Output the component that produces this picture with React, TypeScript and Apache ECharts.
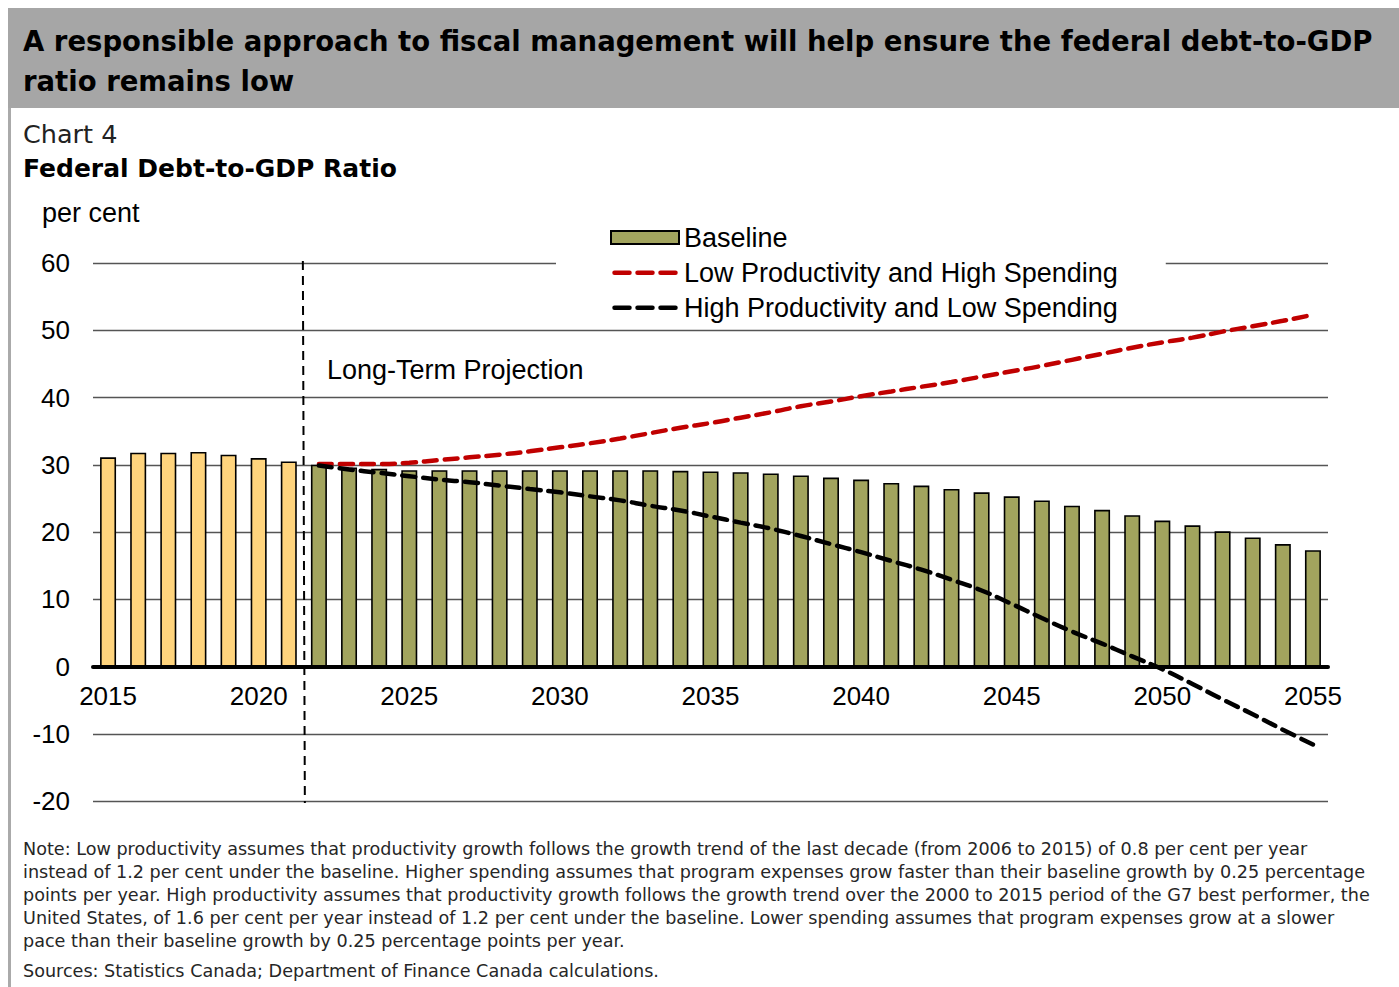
import React, { useEffect, useRef } from "react";
import * as echarts from "echarts";

const years: string[] = [];
for (let y = 2015; y <= 2055; y++) years.push(String(y));

const historicalCount = 7; // 2015-2021

const baseline = [
  31.1, 31.8, 31.8, 31.9, 31.5, 31.0, 30.5,
  30.0, 29.6, 29.4, 29.2, 29.2, 29.2, 29.2, 29.2, 29.2, 29.2,
  29.2, 29.2, 29.1, 29.0, 28.9, 28.7, 28.4, 28.1, 27.8, 27.3,
  26.9, 26.4, 25.9, 25.3, 24.7, 23.9, 23.3, 22.5, 21.7, 21.0,
  20.1, 19.2, 18.2, 17.3,
];

const lowProdHighSpend = [
  null, null, null, null, null, null, null,
  30.1, 30.1, 30.1, 30.3, 30.7, 31.1, 31.5, 32.0, 32.6, 33.2,
  33.9, 34.7, 35.5, 36.2, 37.0, 37.8, 38.7, 39.4, 40.2, 40.9,
  41.6, 42.3, 43.1, 43.9, 44.7, 45.6, 46.5, 47.4, 48.2, 48.9,
  49.8, 50.6, 51.4, 52.3,
];

const highProdLowSpend = [
  null, null, null, null, null, null, null,
  29.9, 29.3, 28.8, 28.3, 27.8, 27.4, 26.9, 26.4, 25.9, 25.3,
  24.7, 23.9, 23.2, 22.3, 21.4, 20.5, 19.4, 18.2, 17.0, 15.7,
  14.4, 12.9, 11.3, 9.3, 7.2, 5.2, 3.4, 1.5, -0.4, -2.6,
  -4.9, -7.1, -9.4, -11.6,
];

const yTicks = { min: -20, max: 60, interval: 10 };

const titleLines = [
  "A responsible approach to fiscal management will help ensure the federal debt-to-GDP",
  "ratio remains low",
];

const noteLines = [
  "Note: Low productivity assumes that productivity growth follows the growth trend of the last decade (from 2006 to 2015) of 0.8 per cent per year",
  "instead of 1.2 per cent under the baseline. Higher spending assumes that program expenses grow faster than their baseline growth by 0.25 percentage",
  "points per year. High productivity assumes that productivity growth follows the growth trend over the 2000 to 2015 period of the G7 best performer, the",
  "United States, of 1.6 per cent per year instead of 1.2 per cent under the baseline. Lower spending assumes that program expenses grow at a slower",
  "pace than their baseline growth by 0.25 percentage points per year.",
];
const sourceLine = "Sources: Statistics Canada; Department of Finance Canada calculations.";

const YELLOW = "#FFD47D";
const OLIVE = "#A2A45E";
const RED = "#C00000";
const AX_FONT = "'Liberation Sans', Arial, sans-serif";
const WIDE_FONT = "'DejaVu Sans', sans-serif";

// three-dash legend glyph with an invisible 13px-high bounding box
const DASH_ICON =
  "path://M0,0L0.01,0L0.01,0.01Z M0,13L0.01,13L0.01,12.99Z M2,4.5h15a2,2 0 0 1 0,4.5h-15a2,2 0 0 1 0,-4.5Z M25,4.5h15a2,2 0 0 1 0,4.5h-15a2,2 0 0 1 0,-4.5Z M48,4.5h15a2,2 0 0 1 0,4.5h-15a2,2 0 0 1 0,-4.5Z";

export default function App() {
  const ref = useRef<HTMLDivElement>(null);

  useEffect(() => {
    if (!ref.current) return;
    const chart = echarts.init(ref.current, null, { renderer: "svg" });

    const graphics: any[] = [
      { id: "banner", type: "rect", shape: { x: 8, y: 8, width: 1391, height: 100 }, style: { fill: "#a6a6a6" }, z: 0 },
      { id: "leftBorder", type: "rect", shape: { x: 8, y: 108, width: 3, height: 879 }, style: { fill: "#aaaaaa" }, z: 0 },
      ...titleLines.map((t, i) => ({
        id: "title" + i,
        type: "text",
        x: 23,
        y: 41 + i * 40,
        style: { text: t, font: `bold 27.5px ${WIDE_FONT}`, fill: "#000", textVerticalAlign: "middle" },
        z: 5,
      })),
      { id: "chartNum", type: "text", x: 23, y: 134, style: { text: "Chart 4", font: `25.5px ${WIDE_FONT}`, fill: "#222", textVerticalAlign: "middle" } },
      { id: "chartTitle", type: "text", x: 23, y: 168, style: { text: "Federal Debt-to-GDP Ratio", font: `bold 25px ${WIDE_FONT}`, fill: "#000", textVerticalAlign: "middle" } },
      { id: "unit", type: "text", x: 42, y: 213, style: { text: "per cent", font: `27px ${AX_FONT}`, fill: "#000", textVerticalAlign: "middle" } },
      { id: "ltp", type: "text", x: 327, y: 370, style: { text: "Long-Term Projection", font: `27px ${AX_FONT}`, fill: "#000", textVerticalAlign: "middle" }, z: 10 },
      ...noteLines.map((t, i) => ({
        id: "note" + i,
        type: "text",
        x: 23,
        y: 849 + i * 23,
        style: { text: t, font: `17.6px ${WIDE_FONT}`, fill: "#262626", textVerticalAlign: "middle" },
      })),
      { id: "source", type: "text", x: 23, y: 971, style: { text: sourceLine, font: `17.6px ${WIDE_FONT}`, fill: "#262626", textVerticalAlign: "middle" } },
    ];

    const option: any = {
      animation: false,
      backgroundColor: "#fff",
      textStyle: { fontFamily: AX_FONT },
      grid: { left: 93, right: 71, top: 263, bottom: 186, containLabel: false },
      legend: {
        orient: "vertical",
        left: 556,
        top: 218,
        padding: [6, 48, 6, 54],
        backgroundColor: "#fff",
        itemWidth: 68,
        itemHeight: 13,
        itemGap: 8,
        textStyle: { fontSize: 27, color: "#000", fontFamily: AX_FONT },
        data: [
          { name: "Baseline", icon: "rect" },
          { name: "Low Productivity and High Spending", icon: DASH_ICON, itemStyle: { color: RED, borderWidth: 0 } },
          { name: "High Productivity and Low Spending", icon: DASH_ICON, itemStyle: { color: "#000", borderWidth: 0 } },
        ],
        z: 20,
      },
      xAxis: {
        type: "category",
        data: years,
        offset: -134.5,
        axisTick: { show: false },
        axisLine: { onZero: false, lineStyle: { color: "#000", width: 4 } },
        axisLabel: { interval: 4, fontSize: 26, color: "#000", margin: 16, fontFamily: AX_FONT },
        splitLine: { show: false },
        z: 6,
      },
      yAxis: {
        type: "value",
        min: yTicks.min,
        max: yTicks.max,
        interval: yTicks.interval,
        axisLine: { show: false },
        axisTick: { show: false },
        axisLabel: { fontSize: 26, color: "#000", margin: 23, fontFamily: AX_FONT },
        splitLine: { lineStyle: { color: "#555", width: 1.3 } },
      },
      series: [
        {
          name: "Baseline",
          type: "bar",
          barWidth: 16,
          itemStyle: { color: OLIVE, borderColor: "#000", borderWidth: 1.6 },
          data: baseline.map((v, i) =>
            i < historicalCount ? { value: v, itemStyle: { color: YELLOW } } : v
          ),
          z: 2,
        },
        {
          name: "Low Productivity and High Spending",
          type: "line",
          data: lowProdHighSpend,
          symbol: "none",
          smooth: true,
          lineStyle: { color: RED, width: 4.5, type: [13, 8], cap: "round" },
          itemStyle: { color: RED },
          z: 4,
        },
        {
          name: "High Productivity and Low Spending",
          type: "line",
          data: highProdLowSpend,
          symbol: "none",
          smooth: true,
          lineStyle: { color: "#000", width: 4.5, type: [13, 8], cap: "round" },
          itemStyle: { color: "#000" },
          z: 4,
        },
      ],
      graphic: { elements: graphics },
    };

    chart.setOption(option);

    const x1 = chart.convertToPixel({ xAxisIndex: 0 }, years[historicalCount - 1]) as number;
    const x2 = chart.convertToPixel({ xAxisIndex: 0 }, years[historicalCount]) as number;
    const yTop = chart.convertToPixel({ yAxisIndex: 0 }, yTicks.max) as number;
    const yBot = chart.convertToPixel({ yAxisIndex: 0 }, yTicks.min) as number;
    const xm = (x1 + x2) / 2 - 1;
    chart.setOption({
      graphic: {
        elements: [
          {
            id: "projLine",
            type: "line",
            shape: { x1: xm, y1: yTop - 2, x2: xm + 2, y2: yBot + 2 },
            style: { stroke: "#000", lineWidth: 2, lineDash: [9, 6] },
            z: 3,
          },
        ],
      },
    });

    return () => chart.dispose();
  }, []);

  return (
    <div
      ref={ref}
      style={{ position: "absolute", left: 0, top: 0, width: 1399, height: 987, background: "#fff" }}
    />
  );
}
